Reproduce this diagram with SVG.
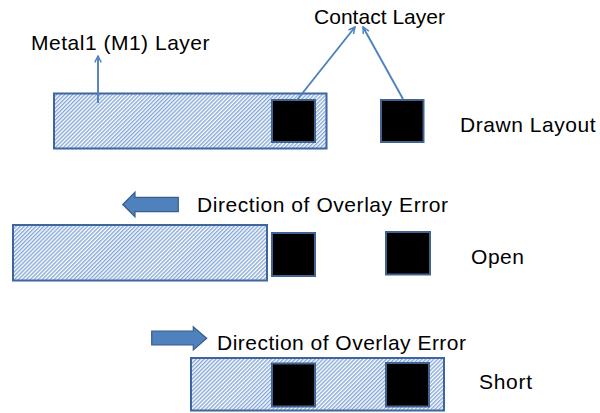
<svg xmlns="http://www.w3.org/2000/svg" width="600" height="413" viewBox="0 0 600 413">
  <defs>
    <pattern id="hatch" patternUnits="userSpaceOnUse" width="2.8" height="2.8" patternTransform="rotate(45)">
      <rect width="2.8" height="2.8" fill="#ffffff"/>
      <rect width="1.4" height="2.8" fill="#86a8d8"/>
    </pattern>
    <marker id="openHead" viewBox="0 0 10 10" refX="9" refY="5" markerWidth="8" markerHeight="8" orient="auto" markerUnits="userSpaceOnUse">
      <path d="M1,1 L9,5 L1,9" fill="none" stroke="#4f81bd" stroke-width="1.8"/>
    </marker>
  </defs>
  <style>
    .metal { fill: url(#hatch); stroke: #3e65a0; stroke-width: 2; }
    .contact { fill: #000000; stroke: #41638f; stroke-width: 2; }
    .lead { fill: none; stroke: #4f81bd; stroke-width: 1.9; marker-end: url(#openHead); }
    .block { fill: #4f81bd; stroke: #385d8a; stroke-width: 1.2; }
    .label { font-family: "Liberation Sans", Arial, sans-serif; font-size: 21px; fill: #000000; }
  </style>

  <rect width="600" height="413" fill="#ffffff"/>

  <!-- Drawn layout -->
  <g id="drawn-metal">
    <rect class="metal" x="54" y="93.5" width="272.5" height="55"/>
  </g>
  <g id="drawn-contact-1">
    <rect class="contact" x="272" y="100" width="43" height="42"/>
  </g>
  <g id="drawn-contact-2">
    <rect class="contact" x="381" y="100" width="42.5" height="42"/>
  </g>
  <g id="label-metal1">
    <text class="label" x="31" y="50" textLength="178.5" lengthAdjust="spacing">Metal1 (M1) Layer</text>
  </g>
  <g id="label-contact">
    <text class="label" x="314" y="24" textLength="131" lengthAdjust="spacing">Contact Layer</text>
  </g>
  <g id="label-drawn">
    <text class="label" x="460" y="132" textLength="135.5" lengthAdjust="spacing">Drawn Layout</text>
  </g>

  <!-- Open case: metal shifted left -->
  <g id="open-arrow">
    <path class="block" d="M178.3,197.3 L135,197.3 L135,192.3 L122.7,204.5 L135,216.7 L135,211.7 L178.3,211.7 Z"/>
  </g>
  <g id="open-direction">
    <text class="label" x="197" y="212" textLength="251" lengthAdjust="spacing">Direction of Overlay Error</text>
  </g>
  <g id="open-metal">
    <rect class="metal" x="13" y="225" width="254" height="55.5"/>
  </g>
  <g id="open-contact-1">
    <rect class="contact" x="272" y="233" width="43" height="43"/>
  </g>
  <g id="open-contact-2">
    <rect class="contact" x="386" y="232" width="44" height="42.5"/>
  </g>
  <g id="label-open">
    <text class="label" x="471" y="264" textLength="53" lengthAdjust="spacing">Open</text>
  </g>

  <!-- Short case: metal shifted right -->
  <g id="short-arrow">
    <path class="block" d="M151.7,331 L193.3,331 L193.3,326.7 L206.7,338.3 L193.3,350 L193.3,345 L151.7,345 Z"/>
  </g>
  <g id="short-direction">
    <text class="label" x="217" y="350" textLength="249" lengthAdjust="spacing">Direction of Overlay Error</text>
  </g>
  <g id="short-metal">
    <rect class="metal" x="191" y="358" width="253" height="52.5"/>
  </g>
  <g id="short-contact-1">
    <rect class="contact" x="272" y="363.5" width="43" height="43"/>
  </g>
  <g id="short-contact-2">
    <rect class="contact" x="386" y="363" width="43" height="43.5"/>
  </g>
  <g id="label-short">
    <text class="label" x="479" y="389" textLength="53" lengthAdjust="spacing">Short</text>
  </g>

  <!-- Leader lines to the layer labels -->
  <g id="connectors">
    <line class="lead" x1="98" y1="103" x2="98" y2="56"/>
    <line class="lead" x1="297" y1="100" x2="355" y2="27"/>
    <line class="lead" x1="403" y1="99" x2="363" y2="27"/>
  </g>
</svg>
